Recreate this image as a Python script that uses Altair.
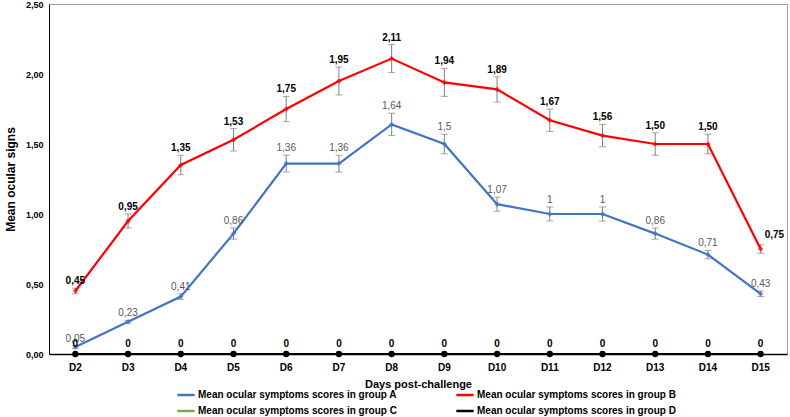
import altair as alt
import pandas as pd

days = ["D2", "D3", "D4", "D5", "D6", "D7", "D8", "D9", "D10", "D11", "D12", "D13", "D14", "D15"]
group_a = [0.05, 0.23, 0.41, 0.86, 1.36, 1.36, 1.64, 1.5, 1.07, 1.0, 1.0, 0.86, 0.71, 0.43]
err_a = [0.01, 0.01, 0.02, 0.04, 0.06, 0.06, 0.08, 0.07, 0.05, 0.05, 0.05, 0.04, 0.03, 0.02]
group_b = [0.45, 0.95, 1.35, 1.53, 1.75, 1.95, 2.11, 1.94, 1.89, 1.67, 1.56, 1.50, 1.50, 0.75]
err_b = [0.02, 0.05, 0.07, 0.08, 0.09, 0.10, 0.10, 0.10, 0.09, 0.08, 0.08, 0.08, 0.07, 0.03]
group_c = [0] * 14
group_d = [0] * 14

names = {
    "A": "Mean ocular symptoms scores in group A",
    "B": "Mean ocular symptoms scores in group B",
    "C": "Mean ocular symptoms scores in group C",
    "D": "Mean ocular symptoms scores in group D",
}
# legend fills column by column: order A, C | B, D gives rows A B / C D
legend_order = ["A", "C", "B", "D"]
color_of = {"A": "#4472C4", "B": "#FF0000", "C": "#70AD47", "D": "#000000"}

rows = []
for g, vals, errs in [("A", group_a, err_a), ("B", group_b, err_b), ("C", group_c, [0] * 14), ("D", group_d, [0] * 14)]:
    for d, v, e in zip(days, vals, errs):
        if g == "B":
            lab = f"{v:.2f}".replace(".", ",")
        else:
            lab = format(v, "g").replace(".", ",")
        rows.append({"day": d, "group": names[g], "g": g, "value": v, "lo": v - e, "hi": v + e, "label": lab})
df = pd.DataFrame(rows)

FONT = "Liberation Sans"

x = alt.X("day:N", sort=days, scale=alt.Scale(type="band", paddingInner=0, paddingOuter=0),
          axis=alt.Axis(title="Days post-challenge", labelAngle=0, labelFontWeight="bold", labelFontSize=10,
                        labelColor="#000", titleFontSize=11, titleFontWeight="bold", titleColor="#000",
                        domainColor="#000", domainWidth=1.5, ticks=False, labelPadding=8, titlePadding=6,
                        labelFont=FONT, titleFont=FONT))
y_scale = alt.Scale(domain=[0, 2.5], nice=False)
y = alt.Y("value:Q", scale=y_scale,
          axis=alt.Axis(title="Mean ocular signs", values=[0, 0.5, 1, 1.5, 2, 2.5],
                        labelExpr="replace(format(datum.value, '.2f'), '.', ',')",
                        labelFontWeight="bold", labelFontSize=9, labelColor="#000", grid=False, ticks=False,
                        titleFontSize=12, titleFontWeight="bold", titleColor="#000", domainColor="#000",
                        domainWidth=1, labelPadding=6, titlePadding=8, labelFont=FONT, titleFont=FONT))

color = alt.Color("group:N",
                  scale=alt.Scale(domain=[names[k] for k in legend_order], range=[color_of[k] for k in legend_order]),
                  legend=alt.Legend(title=None, orient="none", legendX=127, legendY=381, columns=2,
                                    columnPadding=54, rowPadding=1, labelFontWeight="bold", labelFontSize=10,
                                    labelColor="#000", labelFont=FONT, symbolType="stroke", symbolSize=300,
                                    symbolStrokeWidth=2.5, labelLimit=300, labelOffset=2))

base = alt.Chart(df)
ab = base.transform_filter("datum.g == 'A' || datum.g == 'B'")

err_rule = ab.mark_rule(color="#808080", strokeWidth=1).encode(x=x, y=alt.Y("lo:Q", scale=y_scale), y2="hi:Q")
err_top = ab.mark_tick(color="#808080", thickness=1, size=7).encode(x=x, y=alt.Y("hi:Q", scale=y_scale))
err_bot = ab.mark_tick(color="#808080", thickness=1, size=7).encode(x=x, y=alt.Y("lo:Q", scale=y_scale))

lines = base.mark_line(strokeWidth=2.2, clip=False).encode(x=x, y=y, color=color, detail="g:N")

pts_a = base.transform_filter("datum.g == 'A'").mark_point(shape="diamond", filled=True, size=30, color="#4472C4").encode(x=x, y=y)
pts_b = base.transform_filter("datum.g == 'B'").mark_point(shape="diamond", filled=True, size=30, color="#FF0000").encode(x=x, y=y)
pts_c = base.transform_filter("datum.g == 'C'").mark_point(shape="triangle-up", filled=True, size=30, color="#70AD47", clip=False).encode(x=x, y=y)
pts_d = base.transform_filter("datum.g == 'D'").mark_point(shape="circle", filled=True, size=40, color="#000000", opacity=1, clip=False).encode(x=x, y=y)

txt_a = base.transform_filter("datum.g == 'A'").mark_text(baseline="bottom", dy=-2, fontSize=10, color="#595959", font=FONT).encode(
    x=x, y=alt.Y("hi:Q", scale=y_scale), text="label:N")
txt_b = base.transform_filter("datum.g == 'B' && datum.day != 'D15'").mark_text(baseline="bottom", dy=-2, fontSize=10, fontWeight="bold", color="#000", font=FONT).encode(
    x=x, y=alt.Y("hi:Q", scale=y_scale), text="label:N")
txt_b15 = base.transform_filter("datum.g == 'B' && datum.day == 'D15'").mark_text(align="left", baseline="middle", dx=4, dy=-10, fontSize=10, fontWeight="bold", color="#000", font=FONT).encode(
    x=x, y=alt.Y("hi:Q", scale=y_scale), text="label:N")
txt_d = base.transform_filter("datum.g == 'D'").mark_text(baseline="bottom", dy=-5, fontSize=10, fontWeight="bold", color="#000", font=FONT).encode(
    x=x, y=y, text="label:N")

chart = alt.layer(err_rule, err_top, err_bot, lines, pts_a, pts_b, pts_c, pts_d, txt_a, txt_b, txt_b15, txt_d).properties(
    width=738, height=350,
    autosize=alt.AutoSizeParams(type="none"),
    padding={"left": 49, "top": 4, "right": 3, "bottom": 63},
).configure_view(stroke="#A0A0A0", strokeWidth=1)

chart.save("out.html", embed_options={"renderer": "svg", "actions": False})
